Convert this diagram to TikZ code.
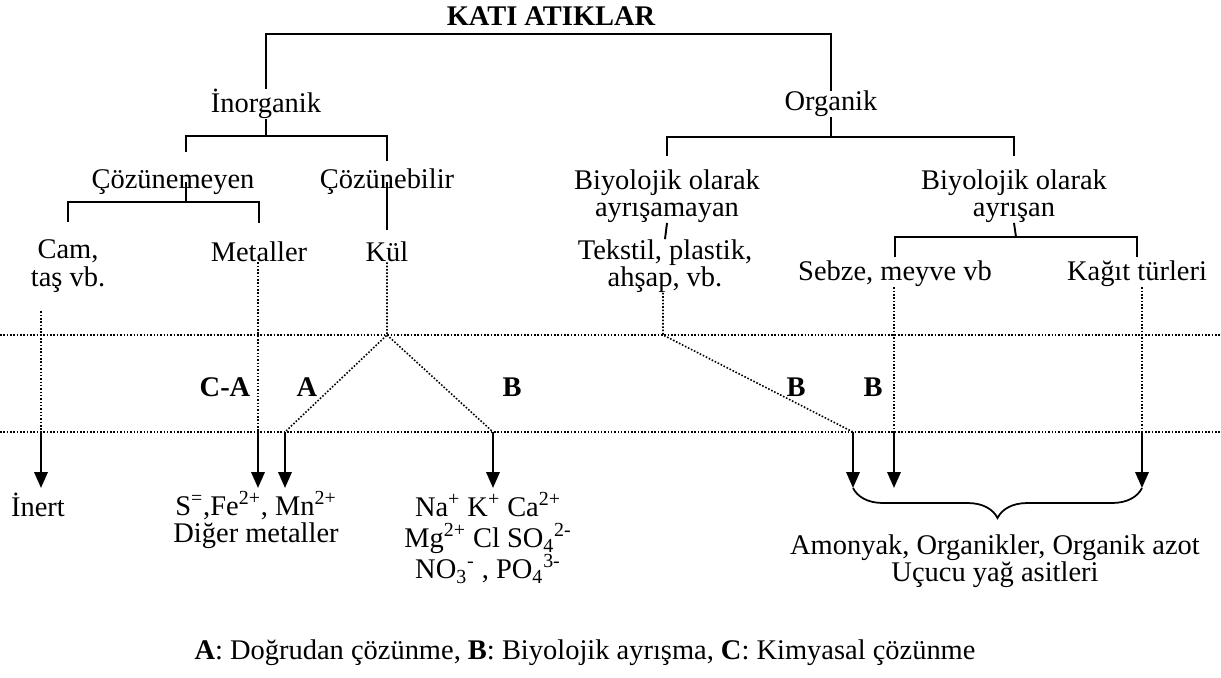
\documentclass[tikz,border=0pt]{standalone}
\usepackage{fontspec}
\setmainfont{Liberation Serif}
\usetikzlibrary{arrows.meta,decorations.pathreplacing}

\begin{document}
\begin{tikzpicture}[
    x=0.02cm, y=-0.02cm,
    every node/.style={font=\fontsize{16.2}{15.5}\selectfont, inner sep=0pt},
    item/.style={align=center},
    tag/.style={font=\fontsize{16.2}{15.5}\selectfont\bfseries},
    tree/.style={line width=1.1pt},
    dots/.style={line width=0.9pt, densely dotted},
    flow/.style={line width=1.4pt, -{Triangle[length=9pt, width=7.5pt]}},
    group/.style={line width=1pt, decorate, decoration={brace, mirror, amplitude=0.6cm}}
]
\useasboundingbox (0,0) rectangle (1221,677);

% Top level
\node[tag] (title) at (551,16) {KATI ATIKLAR};
\coordinate (j0) at (551,34);
\node (inorg) at (266,104) {İnorganik};
\node (org) at (831,104) {Organik};
\draw[tree] (inorg.north) -- (inorg.north |- j0) -- (org.north |- j0) -- (org.north);

% Inorganic branch
\coordinate (j1) at (266,136);
\coordinate (j3) at (186,202);
\node (cozmeyen) at (173,182) {Çözünemeyen};
\node (cozbilir) at (387,182) {Çözünebilir};
\draw[tree] (inorg.south) -- (j1);
\draw[tree, shorten <=0.34cm, shorten >=0.15cm] (j3 |- cozmeyen.north) -- (j3 |- j1) -- (cozbilir.north |- j1) -- (cozbilir.north);

\node[item] (cam) at (68,266) {Cam,\\taş vb.};
\node (metal) at (259,252) {Metaller};
\node (kul) at (387,252) {Kül};
\draw[tree] (j3 |- cozmeyen.center) -- (j3);
\draw[tree, shorten <=0.36cm, shorten >=0.38cm] (cam.north) -- (cam.north |- j3) -- (metal.north |- j3) -- (metal.north);
\draw[tree, shorten >=0.24cm] (cozbilir.center) -- (kul.north);

% Organic branch
\coordinate (j2) at (831,137);
\coordinate (j4) at (1016,237);
\node[item] (biyoay) at (667,196) {Biyolojik olarak\\ayrışamayan};
\node[item] (biyoayr) at (1014,196) {Biyolojik olarak\\ayrışan};
\draw[tree] (org.south) -- (j2);
\draw[tree, shorten <=0.26cm, shorten >=0.26cm] (biyoay.north) -- (biyoay.north |- j2) -- (biyoayr.north |- j2) -- (biyoayr.north);

\node[item] (tekstil) at (665,266) {Tekstil, plastik,\\ahşap, vb.};
\node (sebze) at (895,274) {Sebze, meyve vb};
\node (kagit) at (1137,274) {Kağıt türleri};
\draw[tree] (biyoay.south) -- (tekstil.north);
\draw[tree] (biyoayr.south) -- (j4);
\draw[tree, shorten <=0.07cm, shorten >=0.07cm] (sebze.north) -- (sebze.north |- j4) -- (kagit.north |- j4) -- (kagit.north);

% Zone lines
\coordinate (d1w) at (0,335);
\coordinate (d1e) at (1221,335);
\coordinate (d2w) at (0,432);
\coordinate (d2e) at (1221,432);
\draw[dots] (d1w) -- (d1e);
\draw[dots] (d2w) -- (d2e);

% Paths through the zones
\coordinate (tips) at (0,488);
\coordinate (pc) at (41,432);
\coordinate (pm) at (258,432);
\coordinate (kv) at (387,335);
\coordinate (pa) at (285,432);
\coordinate (pb) at (493,432);
\coordinate (tv) at (663,335);
\coordinate (pt) at (853,432);
\coordinate (ps) at (894,432);
\coordinate (pk) at (1142,432);

\draw[dots, shorten <=0.38cm] (pc |- cam.south) -- (pc);
\draw[dots] (pm |- metal.south) -- (pm);
\draw[dots] (kul.south) -- (kv) -- (pa);
\draw[dots] (kv) -- (pb);
\draw[dots] (tv |- tekstil.south) -- (tv) -- (pt);
\draw[dots] (ps |- sebze.south) -- (ps);
\draw[dots] (pk |- kagit.south) -- (pk);

\foreach \p in {pc,pm,pa,pb,pt,ps,pk}
    \draw[flow] (\p) -- (\p |- tips);

% Process labels
\node[tag] (lca) at (225,387) {C-A};
\node[tag] (la) at (307,387) {A};
\node[tag] (lb1) at (512,387) {B};
\node[tag] (lb2) at (796,387) {B};
\node[tag] (lb3) at (873,387) {B};

% Products
\node (inert) at (38,505) {İnert};
\node[item] (metout) at (256,520) {S\textsuperscript{=},Fe\textsuperscript{2+}, Mn\textsuperscript{2+}\\Diğer metaller};
\node[item, font=\fontsize{16.2}{17.5}\selectfont] (ionout) at (488,538) {Na\textsuperscript{+} K\textsuperscript{+} Ca\textsuperscript{2+}\\Mg\textsuperscript{2+} Cl SO\textsubscript{4}\textsuperscript{2-}\\NO\textsubscript{3}\textsuperscript{-} , PO\textsubscript{4}\textsuperscript{3-}};
\draw[group] (pt |- tips) -- (pk |- tips);
\node[item] (orgout) at (995,561) {Amonyak, Organikler, Organik azot\\Uçucu yağ asitleri};

% Legend
\node (legend) at (585,653) {\textbf{A}: Doğrudan çözünme, \textbf{B}: Biyolojik ayrışma, \textbf{C}: Kimyasal çözünme};

\end{tikzpicture}
\end{document}
